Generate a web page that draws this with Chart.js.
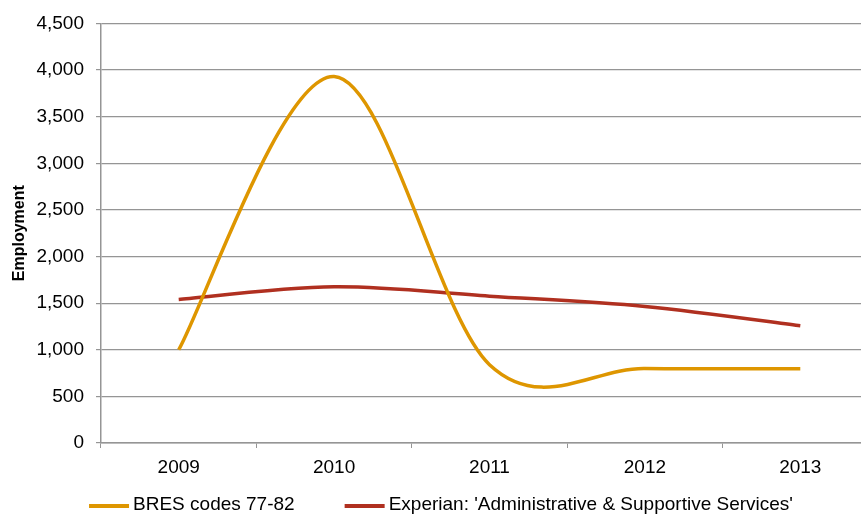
<!DOCTYPE html>
<html>
<head>
<meta charset="utf-8">
<script src="https://cdn.jsdelivr.net/npm/chart.js@4/dist/chart.umd.min.js"></script>
<style>
  html, body { margin: 0; padding: 0; overflow: hidden; background: #ffffff; }
  #wrap { position: relative; width: 900px; height: 514px; }
</style>
</head>
<body>
<div id="wrap"><canvas id="chart" width="900" height="514"></canvas></div>
<script>
// Employment by year, two sources
const years = ['2009', '2010', '2011', '2012', '2013'];
const bresValues = [1000, 3930, 840, 800, 795];
const experianValues = [1540, 1675, 1575, 1465, 1258];
const seriesNames = ['BRES codes 77-82', "Experian: 'Administrative & Supportive Services'"];
const yTicks = [0, 500, 1000, 1500, 2000, 2500, 3000, 3500, 4000, 4500];

const FONT = "'Liberation Sans', Arial, sans-serif";
const GRID = '#959595';

// Spreadsheet-style smoothing: each point's handles follow the chord
// between its neighbours, one sixth of its length on either side.
const chordSmoothing = {
  id: 'chordSmoothing',
  beforeDatasetDraw(chart, args) {
    const meta = args.meta;
    meta.dataset.updateControlPoints(chart.chartArea, meta.indexAxis);
    const pts = meta.data;
    const n = pts.length;
    for (let i = 0; i < n; i++) {
      const p = pts[i];
      const prev = pts[Math.max(i - 1, 0)];
      const next = pts[Math.min(i + 1, n - 1)];
      const dx = (next.x - prev.x) / 6;
      const dy = (next.y - prev.y) / 6;
      p.cp1x = p.x - dx; p.cp1y = p.y - dy;
      p.cp2x = p.x + dx; p.cp2y = p.y + dy;
    }
  }
};

// Legend drawn beneath the axis: short line sample followed by the series name
const lineLegend = {
  id: 'lineLegend',
  afterDraw(chart) {
    const ctx = chart.ctx;
    const sets = chart.data.datasets;
    const sample = 40, gap = 4, between = 50;
    ctx.save();
    ctx.font = '19px ' + FONT;
    const widths = sets.map(d => sample + gap + ctx.measureText(d.label).width);
    const total = widths.reduce((a, b) => a + b, 0) + between * (sets.length - 1);
    let x = 441 - total / 2;
    const y = 505;
    sets.forEach((d, i) => {
      ctx.strokeStyle = d.borderColor;
      ctx.lineWidth = 4;
      ctx.beginPath();
      ctx.moveTo(x, y + 1);
      ctx.lineTo(x + sample, y + 1);
      ctx.stroke();
      ctx.fillStyle = '#000000';
      ctx.textBaseline = 'middle';
      ctx.textAlign = 'left';
      ctx.fillText(d.label, x + sample + gap, y);
      x += widths[i] + between;
    });
    ctx.restore();
  }
};

new Chart(document.getElementById('chart'), {
  type: 'line',
  data: {
    labels: years,
    datasets: [
      {
        label: seriesNames[0],
        data: bresValues,
        borderColor: '#DE9600',
        backgroundColor: '#DE9600',
        borderWidth: 3.5,
        tension: 0.4,
        pointRadius: 0,
        borderCapStyle: 'butt'
      },
      {
        label: seriesNames[1],
        data: experianValues,
        borderColor: '#B03020',
        backgroundColor: '#B03020',
        borderWidth: 3.5,
        tension: 0.4,
        pointRadius: 0,
        borderCapStyle: 'butt'
      }
    ]
  },
  options: {
    responsive: false,
    animation: false,
    layout: { padding: { top: 23, right: 22, bottom: 31, left: 0 } },
    plugins: {
      legend: { display: false },
      tooltip: { enabled: false }
    },
    scales: {
      x: {
        offset: true,
        afterFit(scale) { scale.height = 40; },
        grid: {
          offset: true,
          drawOnChartArea: false,
          drawTicks: true,
          tickLength: 5,
          color: GRID
        },
        border: { color: GRID, width: 1.5 },
        ticks: {
          color: '#000000',
          font: { family: FONT, size: 19 },
          padding: 8,
          maxRotation: 0
        }
      },
      y: {
        min: 0,
        max: 4500,
        afterFit(scale) { scale.width = 101; },
        afterBuildTicks(scale) { scale.ticks = yTicks.map(v => ({ value: v })); },
        grid: {
          color: GRID,
          lineWidth: 1.2,
          drawTicks: true,
          tickLength: 5
        },
        border: { color: GRID, width: 1.5 },
        ticks: {
          color: '#000000',
          font: { family: FONT, size: 19 },
          padding: 12,
          callback: v => v.toLocaleString('en-US')
        },
        title: {
          display: true,
          text: 'Employment',
          color: '#000000',
          font: { family: FONT, size: 16, weight: 'bold' },
          padding: { top: 10, bottom: 0 }
        }
      }
    }
  },
  plugins: [chordSmoothing, lineLegend]
});
</script>
</body>
</html>
